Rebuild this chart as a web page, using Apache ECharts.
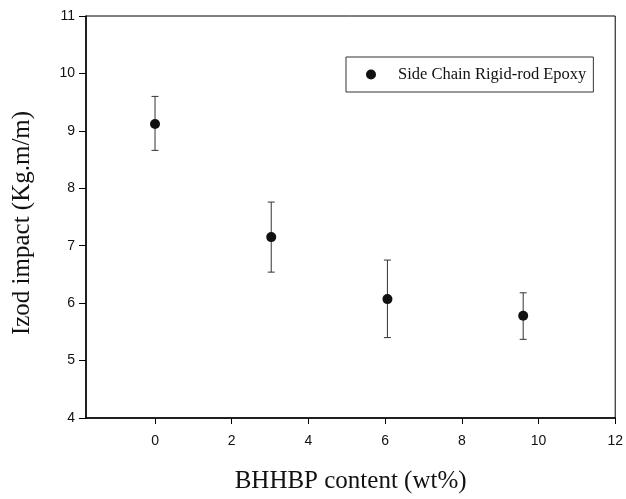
<!DOCTYPE html>
<html>
<head>
<meta charset="utf-8">
<script src="https://cdn.jsdelivr.net/npm/echarts@6/dist/echarts.min.js"></script>
<style>
  html, body { margin: 0; padding: 0; background: #fff; }
  #chart { width: 626px; height: 499px; }
</style>
</head>
<body>
<div id="chart"></div>
<script>
// BHHBP content (wt%) vs Izod impact
var content = [0, 3.03, 6.06, 9.6];
var impact = [9.12, 7.15, 6.07, 5.78];
var errTop = [9.60, 7.76, 6.75, 6.18];
var errBottom = [8.66, 6.54, 5.40, 5.37];
var xTicks = [0, 2, 4, 6, 8, 10, 12];

var chart = echarts.init(document.getElementById('chart'));

var points = content.map(function (x, i) { return [x, impact[i]]; });
var bars = content.map(function (x, i) { return [x, errBottom[i], errTop[i]]; });

function renderError(params, api) {
  var lo = api.coord([api.value(0), api.value(1)]);
  var hi = api.coord([api.value(0), api.value(2)]);
  var w = 3.5;
  var style = { stroke: '#333', lineWidth: 1 };
  return {
    type: 'group',
    children: [
      { type: 'line', shape: { x1: lo[0], y1: lo[1], x2: hi[0], y2: hi[1] }, style: style },
      { type: 'line', shape: { x1: lo[0] - w, y1: lo[1], x2: lo[0] + w, y2: lo[1] }, style: style },
      { type: 'line', shape: { x1: hi[0] - w, y1: hi[1], x2: hi[0] + w, y2: hi[1] }, style: style }
    ]
  };
}

var option = {
  animation: false,
  backgroundColor: '#fff',
  grid: {
    left: 86, top: 16, right: 9, bottom: 78,
    show: true, borderColor: '#000', borderWidth: 1
  },
  legend: {
    left: 346, top: 57,
    data: ['Side Chain Rigid-rod Epoxy'],
    icon: 'circle',
    itemWidth: 10, itemHeight: 10,
    padding: [9, 7, 9, 20],
    borderColor: '#333', borderWidth: 1,
    textStyle: {
      fontFamily: 'Liberation Serif', fontSize: 16.5, color: '#111',
      padding: [0, 0, 0, 17]
    }
  },
  xAxis: {
    type: 'value',
    min: -1.8, max: 12,
    name: 'BHHBP content (wt%)',
    nameLocation: 'middle',
    nameGap: 51,
    nameTextStyle: { fontFamily: 'Liberation Serif', fontSize: 25, color: '#111' },
    axisLine: { onZero: false, lineStyle: { color: '#000', width: 1.5 } },
    axisTick: { customValues: xTicks, length: 6, inside: false, lineStyle: { color: '#000' } },
    axisLabel: {
      customValues: xTicks, margin: 16,
      fontFamily: 'Liberation Sans', fontSize: 14, color: '#111'
    },
    splitLine: { show: false }
  },
  yAxis: {
    type: 'value',
    min: 4, max: 11, interval: 1,
    name: 'Izod impact (Kg.m/m)',
    nameLocation: 'middle',
    nameGap: 51,
    nameTextStyle: {
      fontFamily: 'Liberation Serif', fontSize: 25, color: '#111',
      padding: [0, 12, 0, 0]
    },
    axisLine: { onZero: false, lineStyle: { color: '#000', width: 1.5 } },
    axisTick: { length: 7, lineStyle: { color: '#000' } },
    axisLabel: { margin: 11, fontFamily: 'Liberation Sans', fontSize: 14, color: '#111' },
    splitLine: { show: false }
  },
  series: [{
    type: 'custom',
    renderItem: renderError,
    data: bars,
    encode: { x: 0, y: [1, 2] },
    z: 1,
    silent: true
  }, {
    name: 'Side Chain Rigid-rod Epoxy',
    type: 'scatter',
    data: points,
    symbol: 'circle',
    symbolSize: 10,
    itemStyle: { color: '#111', opacity: 1 },
    z: 2
  }]
};
chart.setOption(option);
</script>
</body>
</html>
